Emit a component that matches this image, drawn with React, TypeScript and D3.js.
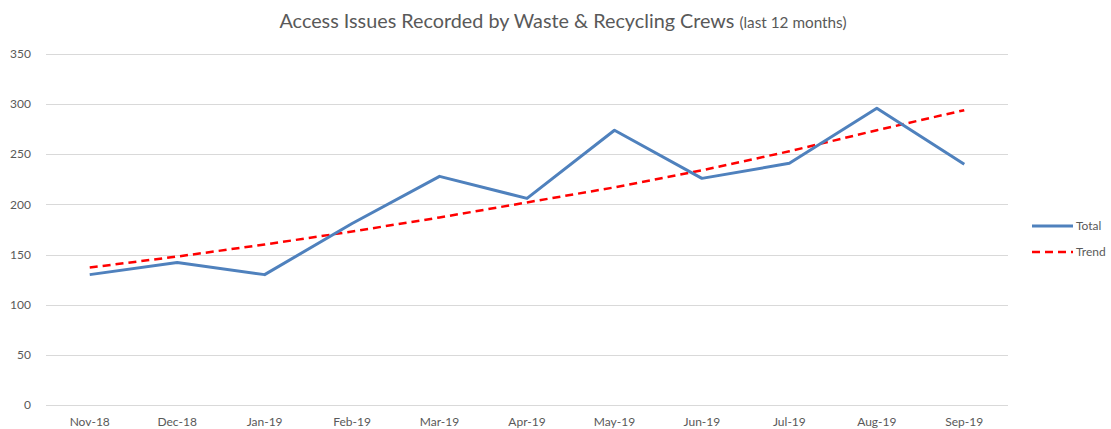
import React, { useEffect, useRef } from 'react';
import * as d3 from 'd3';

const months = ['Nov-18', 'Dec-18', 'Jan-19', 'Feb-19', 'Mar-19', 'Apr-19', 'May-19', 'Jun-19', 'Jul-19', 'Aug-19', 'Sep-19'];
const totalValues = [130, 142, 130, 181, 228, 206, 274, 226, 241, 296, 240];
const trendValues = [137, 148, 160, 173, 187, 202, 217, 234, 253, 274, 294];
const yTicks = [0, 50, 100, 150, 200, 250, 300, 350];

const W = 1111;
const H = 429;
const FONT = 'Lato, "Liberation Sans", Arial, sans-serif';

export default function App() {
  const svgRef = useRef<SVGSVGElement>(null);

  useEffect(() => {
    document.body.style.margin = '0';
    document.body.style.overflow = 'hidden';
    if (!svgRef.current) return;
    const svg = d3.select(svgRef.current);
    svg.selectAll('*').remove();

    const x = d3.scaleBand<string>().domain(months).range([46, 1008]);
    const y = d3.scaleLinear().domain([0, 350]).range([405, 54]);
    const cx = (m: string) => (x(m) || 0) + x.bandwidth() / 2;

    svg.append('rect').attr('width', W).attr('height', H).attr('fill', '#fff');

    // grid
    svg.append('g')
      .selectAll('line')
      .data(yTicks)
      .enter()
      .append('line')
      .attr('x1', 46)
      .attr('x2', 1008)
      .attr('y1', d => Math.round(y(d)) + 0.5)
      .attr('y2', d => Math.round(y(d)) + 0.5)
      .style('stroke', '#d9d9d9')
      .style('stroke-width', '1px');

    svg.append('g')
      .selectAll('text')
      .data(yTicks)
      .enter()
      .append('text')
      .attr('x', 31)
      .attr('y', d => y(d))
      .attr('dy', '0.35em')
      .attr('text-anchor', 'end')
      .style('font-family', FONT)
      .style('font-size', '12px')
      .style('fill', '#595959')
      .text(d => d);

    svg.append('g')
      .selectAll('text')
      .data(months)
      .enter()
      .append('text')
      .attr('x', d => cx(d))
      .attr('y', 426)
      .attr('text-anchor', 'middle')
      .style('font-family', FONT)
      .style('font-size', '12px')
      .style('fill', '#595959')
      .text(d => d);

    const line = d3.line<number>()
      .x((d, i) => cx(months[i]))
      .y(d => y(d));

    svg.append('path')
      .datum(trendValues)
      .attr('d', line)
      .style('fill', 'none')
      .style('stroke', '#ff0000')
      .style('stroke-width', '2.5px')
      .style('stroke-dasharray', '8,5');

    svg.append('path')
      .datum(totalValues)
      .attr('d', line)
      .style('fill', 'none')
      .style('stroke', '#4f81bd')
      .style('stroke-width', '3px')
      .style('stroke-linejoin', 'round');

    // title
    const title = svg.append('text')
      .attr('x', 563)
      .attr('y', 28)
      .attr('text-anchor', 'middle')
      .style('font-family', FONT)
      .style('fill', '#595959');
    title.append('tspan').style('font-size', '19.8px').text('Access Issues Recorded by Waste & Recycling Crews ');
    title.append('tspan').style('font-size', '15.3px').text('(last 12 months)');

    // legend
    const legend = [
      { label: 'Total', color: '#4f81bd', dash: null, width: 3, yPos: 226 },
      { label: 'Trend', color: '#ff0000', dash: '8,5', width: 2.5, yPos: 252 },
    ];
    const lg = svg.append('g');
    legend.forEach(l => {
      lg.append('line')
        .attr('x1', 1032)
        .attr('x2', 1073)
        .attr('y1', l.yPos)
        .attr('y2', l.yPos)
        .style('stroke', l.color)
        .style('stroke-width', `${l.width}px`)
        .style('stroke-dasharray', l.dash);
      lg.append('text')
        .attr('x', 1076)
        .attr('y', l.yPos)
        .attr('dy', '0.35em')
        .style('font-family', FONT)
        .style('font-size', '12px')
        .style('fill', '#595959')
        .text(l.label);
    });
  }, []);

  return (
    <div>
      <svg ref={svgRef} width={W} height={H} style={{ display: 'block' }} />
    </div>
  );
}
